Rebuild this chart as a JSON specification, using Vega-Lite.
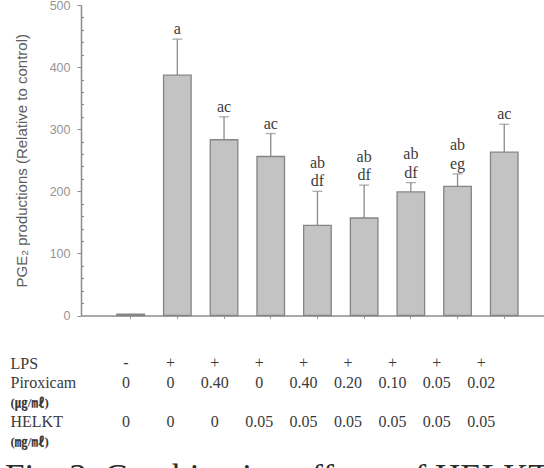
{
  "$schema": "https://vega.github.io/schema/vega-lite/v6.json",
  "padding": {"left": 5, "top": -1, "right": 0, "bottom": 0},
  "background": "white",
  "config": {"view": {"stroke": null}},
  "datasets": {
    "bars": [
      {"g": "1", "v": 2, "up": 2, "lab1": "", "lab2": ""},
      {"g": "2", "v": 387, "up": 445, "lab1": "", "lab2": "a"},
      {"g": "3", "v": 283, "up": 320, "lab1": "", "lab2": "ac"},
      {"g": "4", "v": 256, "up": 293, "lab1": "", "lab2": "ac"},
      {"g": "5", "v": 145, "up": 200, "lab1": "ab", "lab2": "df"},
      {"g": "6", "v": 157, "up": 210, "lab1": "ab", "lab2": "df"},
      {"g": "7", "v": 199, "up": 214, "lab1": "ab", "lab2": "df"},
      {"g": "8", "v": 208, "up": 228, "lab1": "ab", "lab2": "eg"},
      {"g": "9", "v": 263, "up": 308, "lab1": "", "lab2": "ac"}
    ],
    "table": [
      {"g": "1", "row": "LPS", "t": "-"}, {"g": "2", "row": "LPS", "t": "+"}, {"g": "3", "row": "LPS", "t": "+"},
      {"g": "4", "row": "LPS", "t": "+"}, {"g": "5", "row": "LPS", "t": "+"}, {"g": "6", "row": "LPS", "t": "+"},
      {"g": "7", "row": "LPS", "t": "+"}, {"g": "8", "row": "LPS", "t": "+"}, {"g": "9", "row": "LPS", "t": "+"},
      {"g": "1", "row": "Piroxicam", "t": "0"}, {"g": "2", "row": "Piroxicam", "t": "0"}, {"g": "3", "row": "Piroxicam", "t": "0.40"},
      {"g": "4", "row": "Piroxicam", "t": "0"}, {"g": "5", "row": "Piroxicam", "t": "0.40"}, {"g": "6", "row": "Piroxicam", "t": "0.20"},
      {"g": "7", "row": "Piroxicam", "t": "0.10"}, {"g": "8", "row": "Piroxicam", "t": "0.05"}, {"g": "9", "row": "Piroxicam", "t": "0.02"},
      {"g": "1", "row": "HELKT", "t": "0"}, {"g": "2", "row": "HELKT", "t": "0"}, {"g": "3", "row": "HELKT", "t": "0"},
      {"g": "4", "row": "HELKT", "t": "0.05"}, {"g": "5", "row": "HELKT", "t": "0.05"}, {"g": "6", "row": "HELKT", "t": "0.05"},
      {"g": "7", "row": "HELKT", "t": "0.05"}, {"g": "8", "row": "HELKT", "t": "0.05"}, {"g": "9", "row": "HELKT", "t": "0.05"}
    ]
  },
  "vconcat": [
    {
      "width": 463,
      "height": 310.5,
      "data": {"name": "bars"},
      "encoding": {
        "x": {
          "field": "g", "type": "nominal",
          "scale": {"paddingInner": 0.41, "paddingOuter": 0.662, "align": 0.58},
          "axis": {"labels": false, "title": null, "domainColor": "#8c8c8c", "domainWidth": 1.3, "tickColor": "#9a9a9a", "tickSize": 3}
        }
      },
      "layer": [
        {
          "mark": {"type": "bar", "fill": "#c3c3c3", "stroke": "#858585", "strokeWidth": 1.3},
          "encoding": {
            "y": {
              "field": "v", "type": "quantitative",
              "scale": {"domain": [0, 500], "nice": false},
              "axis": {
                "values": [0, 100, 200, 300, 400, 500],
                "title": "PGE₂ productions (Relative to control)",
                "titleFont": "Liberation Sans", "titleFontSize": 15, "titleFontWeight": "normal", "titleColor": "#5e5e5e",
                "titlePadding": 20,
                "labelFont": "Liberation Sans", "labelFontSize": 12.5, "labelColor": "#959595", "labelPadding": 7,
                "tickSize": 4, "tickColor": "#8c8c8c", "domainColor": "#8c8c8c", "domainWidth": 1.5, "grid": false
              }
            }
          }
        },
        {
          "mark": {"type": "rule", "color": "#8a8a8a", "strokeWidth": 1.3},
          "encoding": {
            "y": {"field": "v", "type": "quantitative", "scale": {"domain": [0, 500], "nice": false},
              "axis": {"values": [20, 40, 60, 80, 120, 140, 160, 180, 220, 240, 260, 280, 320, 340, 360, 380, 420, 440, 460, 480],
                "labels": false, "title": null, "domain": false, "grid": false, "tickSize": -2.5, "tickWidth": 1.2, "tickColor": "#8c8c8c", "orient": "left"}},
            "y2": {"field": "up"}
          }
        },
        {
          "transform": [{"filter": "datum.up > datum.v"}],
          "mark": {"type": "tick", "color": "#8a8a8a", "size": 10, "thickness": 1.3},
          "encoding": {"y": {"field": "up", "type": "quantitative", "axis": null, "scale": {"domain": [0, 500], "nice": false}}}
        },
        {
          "mark": {"type": "text", "font": "Liberation Serif", "fontSize": 16, "color": "#3c3c3c", "baseline": "alphabetic", "dy": -5},
          "encoding": {
            "y": {"field": "up", "type": "quantitative", "axis": null, "scale": {"domain": [0, 500], "nice": false}},
            "text": {"field": "lab2"}
          }
        },
        {
          "mark": {"type": "text", "font": "Liberation Serif", "fontSize": 16, "color": "#3c3c3c", "baseline": "alphabetic", "dy": -23.5},
          "encoding": {
            "y": {"field": "up", "type": "quantitative", "axis": null, "scale": {"domain": [0, 500], "nice": false}},
            "text": {"field": "lab1"}
          }
        }
      ],
      "resolve": {"scale": {"y": "independent"}, "axis": {"y": "independent"}}
    },
    {
      "width": 463,
      "height": 97.5,
      "data": {"name": "table"},
      "title": {
        "text": "Fig. 3.  Combination effects of HELKT",
        "orient": "bottom", "anchor": "start", "frame": "group", "dx": -76, "offset": 37.5,
        "font": "Liberation Serif", "fontSize": 35, "fontWeight": "normal", "color": "#2a2a2a", "baseline": "alphabetic"
      },
      "mark": {"type": "text", "font": "Liberation Serif", "fontSize": 16, "color": "#3a3a3a"},
      "encoding": {
        "x": {"field": "g", "type": "nominal", "scale": {"type": "band", "paddingInner": 0, "paddingOuter": 0.714, "align": 0.36}, "axis": null},
        "y": {
          "field": "row", "type": "ordinal",
          "scale": {"type": "point", "domain": ["LPS", "Piroxicam", "u1", "HELKT", "u2"], "padding": 0.5},
          "axis": {
            "title": null, "domain": false, "ticks": false, "labelAlign": "left", "labelPadding": 71,
            "labelExpr": "datum.value == 'u1' ? '(㎍/㎖)' : datum.value == 'u2' ? '(㎎/㎖)' : datum.value",
            "labelFont": "Liberation Serif, Noto Sans CJK KR",
            "labelFontSize": {"condition": {"test": "datum.value == 'u1' || datum.value == 'u2'", "value": 13}, "value": 16},
            "labelFontWeight": {"condition": {"test": "datum.value == 'u1' || datum.value == 'u2'", "value": "bold"}, "value": "normal"},
            "labelColor": "#3a3a3a", "labelBaseline": "middle"
          }
        },
        "text": {"field": "t"}
      }
    }
  ],
  "spacing": 37.5,
  "bounds": "flush",
  "resolve": {"scale": {"x": "independent"}}
}
